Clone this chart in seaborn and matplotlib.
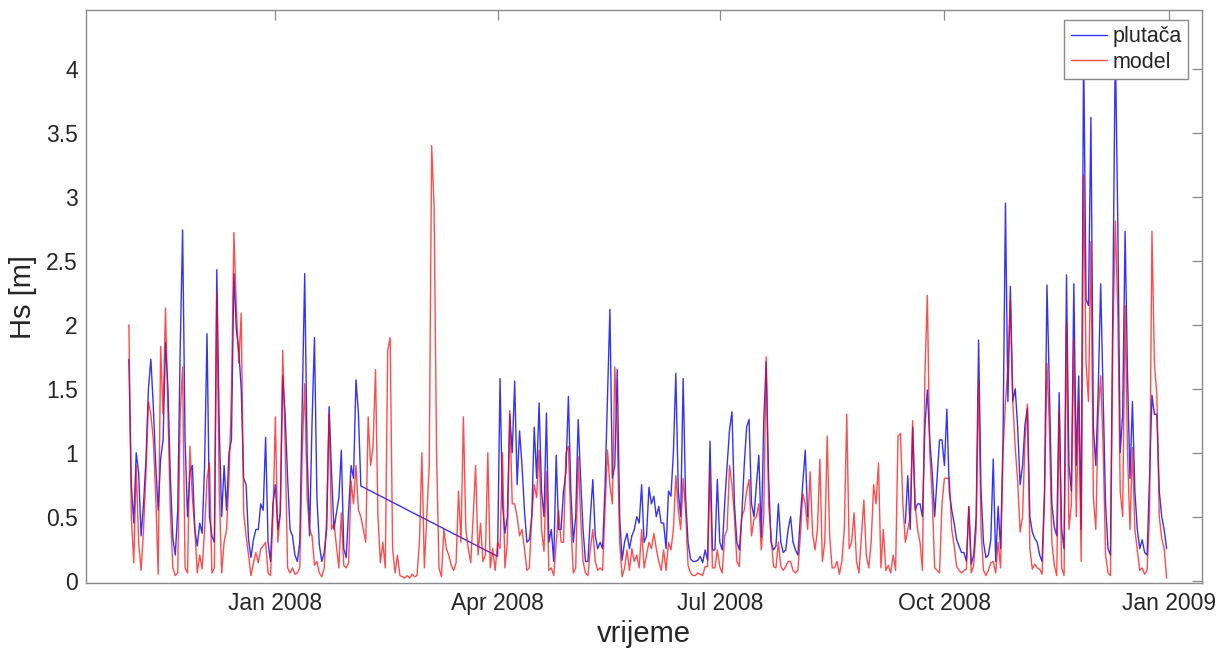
import numpy as np
import pandas as pd
import matplotlib
matplotlib.use("Agg")
import matplotlib.pyplot as plt
import matplotlib.dates as mdates
from matplotlib.ticker import FuncFormatter
import seaborn as sns

nan = np.nan

# Daily significant wave height Hs [m], 2 Nov 2007 - 31 Dec 2008.
# buoy = measured (plutača), model = simulated; nan = no buoy record.
buoy_2007_11 = [1.73, 0.75, 0.45, 1.0, 0.84, 0.35, 0.6, 0.95, 1.5, 1.73, 1.36, 0.9, 0.55, 0.95, 1.1,
                1.86, 1.5, 0.8, 0.33, 0.2, 0.55, 1.8, 2.74, 1.1, 0.5, 0.85, 0.9, 0.4, 0.27]
model_2007_11 = [2.0, 0.5, 0.14, 0.9, 0.3, 0.08, 0.4, 0.85, 1.4, 1.3, 1.1, 0.65, 0.05, 1.83, 1.3,
                 2.13, 1.3, 0.53, 0.1, 0.04, 0.06, 1.3, 1.67, 0.1, 0.06, 1.05, 0.65, 0.4, 0.06]

buoy_2007_12 = [0.45, 0.37, 0.9, 1.93, 0.5, 0.35, 0.3, 2.43, 1.2, 0.5, 0.9, 0.55, 1.0, 1.1, 2.4, 1.96,
                1.8, 1.5, 0.8, 0.75, 0.32, 0.18, 0.32, 0.4, 0.4, 0.6, 0.55, 1.12, 0.3, 0.15, 0.6]
model_2007_12 = [0.2, 0.09, 0.4, 0.8, 0.92, 0.06, 0.1, 2.25, 0.7, 0.06, 0.3, 0.4, 0.8, 1.46, 2.72, 2.14,
                 1.7, 2.09, 0.53, 0.35, 0.2, 0.04, 0.14, 0.22, 0.14, 0.25, 0.27, 0.3, 0.06, 0.04, 0.5]

buoy_2008_01 = [0.75, 0.4, 0.53, 1.6, 1.3, 0.8, 0.4, 0.35, 0.2, 0.15, 0.3, 1.39, 2.4, 1.0, 0.35, 1.23,
                1.9, 0.65, 0.28, 0.15, 0.22, 0.4, 1.36, 0.84, 0.4, 0.53, 0.65, 1.02, 0.25, 0.18, 0.55]
model_2008_01 = [1.28, 0.3, 0.53, 1.8, 1.05, 0.1, 0.06, 0.1, 0.05, 0.06, 0.1, 1.02, 1.54, 0.65, 0.4, 0.35,
                 0.12, 0.15, 0.06, 0.03, 0.1, 0.5, 1.3, 0.4, 0.45, 0.27, 0.1, 0.53, 0.12, 0.1, 0.14]

buoy_2008_02 = [0.9, 0.8, 1.57, 1.31, 0.74] + [nan] * 24
model_2008_02 = [0.78, 0.6, 0.9, 0.55, 0.5, 0.4, 0.3, 1.28, 0.9, 1.05, 1.65, 0.5, 0.14, 0.3, 0.1,
                 1.8, 1.9, 0.25, 0.06, 0.2, 0.04, 0.03, 0.02, 0.04, 0.02, 0.05, 0.03, 0.04, 0.3]

buoy_2008_03 = [nan] * 31
model_2008_03 = [1.0, 0.1, 0.5, 0.9, 3.4, 2.92, 1.0, 0.1, 0.03, 0.4, 0.25, 0.2, 0.12, 0.08, 0.14, 0.7,
                 0.3, 1.28, 0.4, 0.25, 0.14, 0.5, 0.9, 0.2, 0.45, 0.15, 0.2, 1.0, 0.1, 0.25, 0.08]

buoy_2008_04 = [0.19, 1.58, 0.6, 0.37, 0.5, 1.3, 1.0, 1.56, 0.75, 1.17, 0.9, 0.55, 0.3, 0.32, 0.5,
                1.2, 0.8, 1.39, 0.7, 0.5, 1.31, 0.3, 0.4, 0.15, 0.98, 0.4, 0.4, 0.7, 0.85, 1.44]
model_2008_04 = [0.3, 0.25, 1.0, 0.1, 0.3, 1.33, 0.6, 0.6, 0.5, 0.35, 0.4, 0.25, 0.08, 0.1, 0.5,
                 0.75, 0.65, 1.02, 0.4, 0.23, 0.85, 0.08, 0.1, 0.04, 0.3, 0.55, 0.3, 0.3, 1.0, 1.05]

buoy_2008_05 = [0.7, 0.3, 0.5, 1.26, 0.8, 0.4, 0.15, 0.15, 0.5, 0.79, 0.35, 0.25, 0.3, 0.25, 0.73, 1.44,
                2.12, 0.8, 0.9, 1.65, 0.5, 0.16, 0.3, 0.37, 0.25, 0.35, 0.4, 0.5, 0.45, 0.75, 0.3]
model_2008_05 = [0.45, 0.06, 0.1, 0.97, 0.5, 0.15, 0.06, 0.04, 0.25, 0.4, 0.15, 0.08, 0.1, 0.08, 0.55, 1.02,
                 0.75, 0.6, 1.67, 1.15, 0.3, 0.03, 0.1, 0.24, 0.08, 0.25, 0.15, 0.2, 0.1, 0.4, 0.1]

buoy_2008_06 = [0.35, 0.73, 0.6, 0.66, 0.5, 0.58, 0.45, 0.45, 0.25, 0.7, 0.66, 1.0, 1.62, 0.7, 0.5,
                1.58, 0.65, 0.3, 0.17, 0.15, 0.15, 0.16, 0.19, 0.14, 0.24, 0.16, 1.09, 0.24, 0.24, 0.79]
model_2008_06 = [0.2, 0.3, 0.25, 0.37, 0.25, 0.15, 0.08, 0.24, 0.08, 0.3, 0.24, 0.4, 0.82, 0.55, 0.4,
                 0.8, 0.55, 0.12, 0.06, 0.04, 0.04, 0.06, 0.05, 0.04, 0.11, 0.11, 0.87, 0.1, 0.1, 0.24]

buoy_2008_07 = [0.3, 0.24, 0.6, 0.9, 1.18, 1.32, 0.6, 0.3, 0.24, 0.5, 0.9, 1.2, 1.26, 0.6, 0.5, 0.75,
                0.98, 0.34, 1.24, 1.71, 0.8, 0.3, 0.24, 0.27, 0.6, 0.3, 0.22, 0.24, 0.4, 0.5, 0.3]
model_2008_07 = [0.11, 0.06, 0.35, 0.4, 0.9, 0.75, 0.5, 0.15, 0.11, 0.5, 0.55, 0.7, 0.79, 0.35, 0.48, 0.5,
                 0.6, 0.24, 0.5, 1.75, 0.6, 0.35, 0.11, 0.1, 0.3, 0.11, 0.08, 0.11, 0.15, 0.15, 0.08]

buoy_2008_08 = [0.24, 0.2, 0.5, 0.76, 1.02, 0.5] + [nan] * 25
model_2008_08 = [0.06, 0.08, 0.35, 0.68, 0.6, 0.4, 0.85, 0.37, 0.24, 0.4, 0.95, 0.15, 0.3, 1.13, 0.35, 0.1,
                 0.1, 0.15, 0.05, 0.15, 0.4, 1.3, 0.25, 0.3, 0.53, 0.15, 0.06, 0.35, 0.63, 0.2, 0.1]

buoy_2008_09 = [nan] * 14 + [0.45, 0.82, 0.4, 1.2, 0.55, 0.6, 0.6, 0.5, 1.2, 1.49, 1.1, 0.85, 0.5, 0.8,
                             1.1, 1.1]
model_2008_09 = [0.3, 0.75, 0.6, 0.92, 0.1, 0.4, 0.08, 0.12, 0.06, 0.2, 0.08, 1.13, 1.15, 0.6, 0.3,
                 0.4, 0.5, 1.25, 0.6, 0.4, 0.3, 0.08, 1.6, 2.23, 1.0, 0.65, 0.1, 0.08, 0.06, 0.6]

buoy_2008_10 = [0.9, 1.34, 0.7, 0.55, 0.45, 0.32, 0.27, 0.22, 0.22, 0.15, 0.58, 0.13, 0.2, 0.5, 1.88, 0.7,
                0.3, 0.18, 0.2, 0.32, 0.95, 0.15, 0.58, 0.25, 1.1, 2.95, 1.4, 2.3, 1.4, 1.5, 1.2]
model_2008_10 = [0.8, 0.8, 0.8, 0.4, 0.27, 0.11, 0.08, 0.06, 0.08, 0.09, 0.58, 0.06, 0.12, 0.4, 1.57, 0.4,
                 0.08, 0.04, 0.08, 0.14, 0.15, 0.06, 0.3, 0.1, 1.0, 1.4, 1.65, 2.2, 1.4, 1.04, 0.78]

buoy_2008_11 = [0.75, 0.9, 1.22, 1.35, 0.5, 0.38, 0.33, 0.3, 0.2, 0.15, 0.7, 2.31, 1.5, 0.6, 0.42,
                0.35, 1.47, 0.4, 0.25, 2.39, 0.9, 0.7, 2.32, 0.9, 1.6, 0.4, 4.2, 2.2, 2.15, 3.62]
model_2008_11 = [0.38, 0.5, 1.1, 1.38, 0.25, 0.09, 0.13, 0.1, 0.09, 0.05, 0.65, 1.7, 1.2, 0.3, 0.12,
                 0.04, 1.33, 0.1, 0.04, 2.02, 0.4, 0.6, 1.89, 0.5, 1.4, 0.15, 3.17, 1.7, 1.4, 2.65]

buoy_2008_12 = [1.2, 0.9, 1.5, 2.32, 1.45, 0.6, 0.25, 0.2, 2.2, 4.2, 2.81, 1.0, 1.3, 2.73, 1.6, 0.8,
                1.4, 0.7, 0.4, 0.25, 0.32, 0.22, 0.2, 0.8, 1.45, 1.3, 1.3, 0.7, 0.5, 0.4, 0.25]
model_2008_12 = [0.65, 0.4, 1.3, 1.6, 1.04, 0.2, 0.06, 0.04, 1.9, 2.81, 2.12, 0.7, 0.5, 2.15, 1.0, 0.4,
                 1.04, 0.4, 0.24, 0.08, 0.1, 0.05, 0.08, 0.5, 2.73, 1.7, 1.45, 0.5, 0.33, 0.25, 0.02]

buoy_months = [buoy_2007_11, buoy_2007_12, buoy_2008_01, buoy_2008_02, buoy_2008_03, buoy_2008_04,
               buoy_2008_05, buoy_2008_06, buoy_2008_07, buoy_2008_08, buoy_2008_09, buoy_2008_10,
               buoy_2008_11, buoy_2008_12]
model_months = [model_2007_11, model_2007_12, model_2008_01, model_2008_02, model_2008_03, model_2008_04,
                model_2008_05, model_2008_06, model_2008_07, model_2008_08, model_2008_09, model_2008_10,
                model_2008_11, model_2008_12]

x_ticks = ["2008-01-01", "2008-04-01", "2008-07-01", "2008-10-01", "2009-01-01"]
y_ticks = [0, 0.5, 1, 1.5, 2, 2.5, 3, 3.5, 4]

dates = pd.date_range("2007-11-02", "2008-12-31", freq="D")
df = pd.DataFrame({
    "date": dates,
    "plutača": np.concatenate([np.asarray(m, dtype=float) for m in buoy_months]),
    "model": np.concatenate([np.asarray(m, dtype=float) for m in model_months]),
})

sns.set_theme(style="white")
plt.rcParams["font.family"] = ["Liberation Sans", "DejaVu Sans"]

fig = plt.figure(figsize=(12.28, 6.62), dpi=100)
ax = fig.add_axes([0.070, 0.119, 0.909, 0.866])

# The winter outage is bridged by a straight segment; the late-summer one is left open.
summer_outage = pd.Timestamp("2008-08-15")
line_kw = dict(x="date", estimator=None, errorbar=None, linewidth=1.0, ax=ax)
sns.lineplot(data=df[df["date"] < summer_outage].dropna(subset=["plutača"]), y="plutača",
             color="blue", alpha=0.8, label="plutača", **line_kw)
sns.lineplot(data=df[df["date"] >= summer_outage].dropna(subset=["plutača"]), y="plutača",
             color="blue", alpha=0.8, label="_nolegend_", **line_kw)
sns.lineplot(data=df, y="model", color="red", alpha=0.7, label="model", **line_kw)

ax.set_xlim(pd.Timestamp("2007-10-15 10:00"), pd.Timestamp("2009-01-14 14:00"))
ax.set_ylim(-0.02, 4.46)
ax.set_xticks(pd.to_datetime(x_ticks))
ax.xaxis.set_major_formatter(mdates.DateFormatter("%b %Y"))
ax.set_yticks(y_ticks)
ax.yaxis.set_major_formatter(FuncFormatter(lambda v, _: f"{v:g}"))

spine_color = "#8a8a8a"
for sp in ax.spines.values():
    sp.set_visible(True)
    sp.set_color(spine_color)
    sp.set_linewidth(1.0)
ax.tick_params(axis="both", which="major", direction="in", length=7, width=0.9,
               color=spine_color, top=True, right=True, labelsize=16.5,
               labelcolor="#262626", pad=6)

ax.set_xlabel("vrijeme", fontsize=21, color="#262626", labelpad=4)
ax.set_ylabel("Hs [m]", fontsize=21, color="#262626", labelpad=6)

leg = ax.legend(loc="upper right", bbox_to_anchor=(0.9875, 0.9825), borderaxespad=0,
                fontsize=15.5, frameon=True, fancybox=False, framealpha=1,
                edgecolor=spine_color, handlelength=1.7, handletextpad=0.25,
                labelspacing=0.2, borderpad=0.3)
leg.get_frame().set_linewidth(1.0)
for h in leg.get_lines():
    h.set_linewidth(1.0)

fig.savefig("out.png", dpi=100)
